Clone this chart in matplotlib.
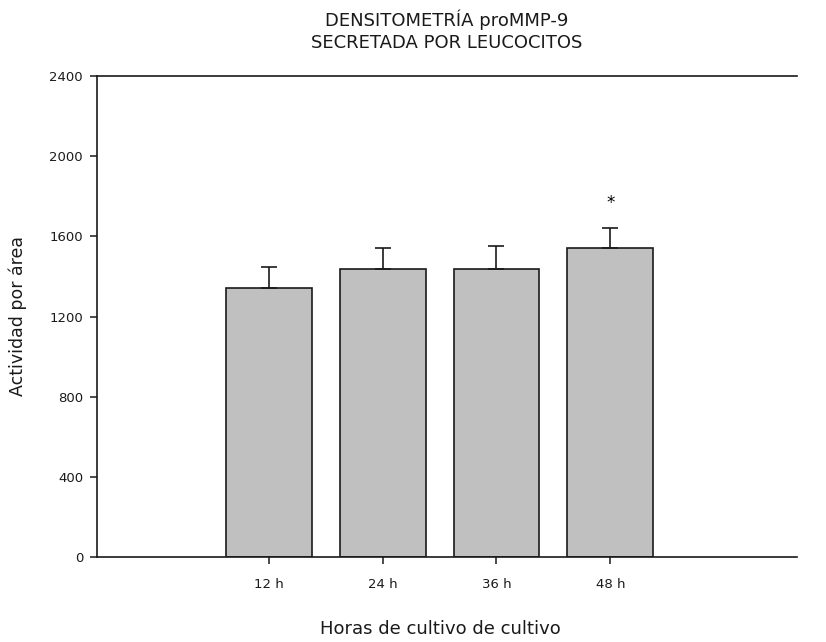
import matplotlib
matplotlib.use("Agg")
import matplotlib.pyplot as plt
import numpy as np

categories = ["12 h", "24 h", "36 h", "48 h"]
values = [1343, 1438, 1437, 1540]
errors = [102, 102, 113, 103]
signif = ["", "", "", "*"]
yticks = [0, 400, 800, 1200, 1600, 2000, 2400]

plt.rcParams['font.family'] = ['DejaVu Sans']

fig = plt.figure(figsize=(8.26, 6.42), dpi=100)
ax = fig.add_axes([97 / 826, 1 - 557 / 642, 700 / 826, 481 / 642])

x = np.arange(1, len(categories) + 1)
ax.bar(x, values, width=0.754, color="#c0c0c0", edgecolor="#1a1a1a", linewidth=1.2, zorder=2)
ax.errorbar(x, values, yerr=[np.zeros(len(values)), errors], fmt="none",
            ecolor="#1a1a1a", elinewidth=1.2, capsize=5.5, capthick=1.2, zorder=3)
for xi, v, e, s in zip(x, values, errors, signif):
    if s:
        ax.text(xi, v + e + 122, s, ha="center", va="center", fontsize=12)

ax.set_xlim(-0.509, 5.64)
ax.set_ylim(0, 2400)
ax.set_yticks(yticks)
ax.set_xticks(x)
ax.set_xticklabels(categories)
for sp in ax.spines.values():
    sp.set_linewidth(1.2)
    sp.set_color("#1a1a1a")
ax.spines['right'].set_visible(False)
ax.tick_params(direction="out", length=5, width=1.1, labelsize=9.5, colors="#1a1a1a")
ax.tick_params(axis="y", pad=5)
ax.tick_params(axis="x", pad=10)
ax.set_ylabel("Actividad por área", fontsize=12.5, color="#1a1a1a")
ax.yaxis.set_label_coords(-0.1, 0.5)
ax.set_xlabel("Horas de cultivo de cultivo", fontsize=13, color="#1a1a1a")
ax.xaxis.set_label_coords(0.49, -0.13)
fig.text(447 / 826, 1 - 31 / 642, "DENSITOMETRÍA proMMP-9\nSECRETADA POR LEUCOCITOS",
         ha="center", va="center", fontsize=13, linespacing=1.3, color="#1a1a1a")

fig.savefig("out.png", dpi=100)
